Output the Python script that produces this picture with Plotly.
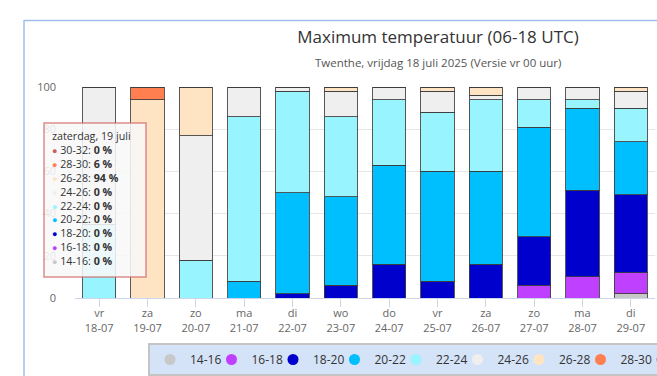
import plotly.graph_objects as go

# ---------------- data ----------------
days = ["vr", "za", "zo", "ma", "di", "wo", "do", "vr", "za", "zo", "ma", "di"]
dates = ["18-07", "19-07", "20-07", "21-07", "22-07", "23-07",
         "24-07", "25-07", "26-07", "27-07", "28-07", "29-07"]

classes = ["14-16", "16-18", "18-20", "20-22", "22-24", "24-26", "26-28", "28-30", "30-32"]
colors = ["#c8c8c8", "#bf40ff", "#0000cd", "#00bfff", "#98f5ff", "#efefef", "#ffe4c4", "#ff7f50", "#cd5c5c"]

p_14_16 = [0, 0, 0, 0, 0, 0, 0, 0, 0, 0, 0, 2]
p_16_18 = [0, 0, 0, 0, 0, 0, 0, 0, 0, 6, 10, 10]
p_18_20 = [0, 0, 0, 0, 2, 6, 16, 8, 16, 23, 41, 37]
p_20_22 = [0, 0, 0, 8, 48, 42, 47, 52, 44, 52, 39, 25]
p_22_24 = [35, 0, 18, 78, 48, 38, 31, 28, 34, 13, 4, 16]
p_24_26 = [65, 0, 59, 14, 2, 12, 6, 10, 2, 6, 6, 8]
p_26_28 = [0, 94, 23, 0, 0, 2, 0, 2, 4, 0, 0, 2]
p_28_30 = [0, 6, 0, 0, 0, 0, 0, 0, 0, 0, 0, 0]
p_30_32 = [0, 0, 0, 0, 0, 0, 0, 0, 0, 0, 0, 0]
series = [p_14_16, p_16_18, p_18_20, p_20_22, p_22_24, p_24_26, p_26_28, p_28_30, p_30_32]

y_ticks = [0, 20, 40, 60, 80, 100]

title = "Maximum temperatuur (06-18 UTC)"
subtitle = "Twenthe, vrijdag 18 juli 2025 (Versie vr 00 uur)"
tooltip_header = "zaterdag, 19 juli"
tooltip_day = 1  # index of the hovered day

# ---------------- layout geometry (pixels) ----------------
W, H = 657, 376
PL, PR, PT, PB = 75, 655, 87, 298  # plot area


def px_x(px):
    return (px - PL) / (PR - PL)


def px_y(py):
    return (PB - py) / (PB - PT)


FONT = "Open Sans, Noto Sans, sans-serif"
cats = [f"{d}<br>{dt}" for d, dt in zip(days, dates)]

fig = go.Figure()
for name, col, vals in zip(classes, colors, series):
    fig.add_trace(go.Bar(
        x=cats, y=vals, name=name, legendgroup=name, showlegend=False,
        marker=dict(color=col, line=dict(color="rgba(60,60,60,0.85)", width=1)),
        hovertemplate=name + ": %{y} %<extra></extra>",
    ))
# legend entries with round symbols (as in the original)
for name, col in zip(classes, colors):
    fig.add_trace(go.Scatter(
        x=[None], y=[None], mode="markers", name=name, legendgroup=name,
        marker=dict(color=col, size=11, symbol="circle"), showlegend=True,
    ))

# ---------------- tooltip (static, as in the screenshot) ----------------
TT_L, TT_T, TT_R, TT_B = 44, 123, 146, 277
tt_lines = [tooltip_header]
for name, col, vals in reversed(list(zip(classes, colors, series))):
    tt_lines.append(f"<span style='color:{col};font-size:9px'>●</span> {name}: <b>{vals[tooltip_day]} %</b>")
tooltip_text = "<br>".join(tt_lines)

annotations = [
    dict(text=subtitle, xref="paper", yref="paper", x=px_x(438), y=px_y(62),
         xanchor="center", yanchor="middle", showarrow=False,
         font=dict(size=11.5, color="#555555", family=FONT)),
    dict(text=tooltip_text, xref="paper", yref="paper", x=px_x(50), y=px_y(198),
         xanchor="left", yanchor="middle", align="left", showarrow=False,
         font=dict(size=10.7, color="#333333", family=FONT)),
]

fig.update_layout(
    width=W, height=H,
    margin=dict(l=PL, r=W - PR, t=PT, b=H - PB, pad=0),
    barmode="stack", bargap=0.315,
    plot_bgcolor="white", paper_bgcolor="white",
    font=dict(family=FONT, color="#666666", size=11),
    title=dict(text=title, x=438 / W, xref="container", xanchor="center",
               y=1 - 37 / H, yref="container", yanchor="middle",
               font=dict(size=17, color="#333333", family=FONT)),
    showlegend=True,
    legend=dict(orientation="h", xref="container", yref="container",
                x=148 / W, xanchor="left", y=1 - 343 / H, yanchor="top",
                bgcolor="#d4e3f7", bordercolor="#c4c4c4", borderwidth=2,
                font=dict(size=12, color="#333333", family=FONT),
                traceorder="normal", entrywidth=16.5, entrywidthmode="pixels",
                itemclick=False),
    xaxis=dict(type="category", showline=True, linecolor="#ccd6eb", linewidth=1,
               ticks="outside", ticklen=8, tickcolor="#ccd6eb", tickwidth=1,
               ticklabelstandoff=-3,
               tickfont=dict(size=11, color="#666666"), showgrid=False,
               range=[-0.5, len(cats) - 0.5], fixedrange=True),
    yaxis=dict(range=[0, 100], tickvals=y_ticks, showgrid=True, gridcolor="#e6e6e6",
               zeroline=False, showline=False, ticks="", ticklabelstandoff=18,
               tickfont=dict(size=11, color="#666666"), fixedrange=True),
    shapes=[
        # outer chart container border (left and top)
        dict(type="line", xref="paper", yref="paper", x0=px_x(24), x1=px_x(24),
             y0=px_y(20), y1=px_y(380), line=dict(color="#9fc0ee", width=1.5), layer="above"),
        dict(type="line", xref="paper", yref="paper", x0=px_x(24), x1=px_x(700),
             y0=px_y(20.5), y1=px_y(20.5), line=dict(color="#9fc0ee", width=1.5), layer="above"),
        # tooltip box
        dict(type="rect", xref="paper", yref="paper",
             x0=px_x(TT_L), x1=px_x(TT_R), y0=px_y(TT_B), y1=px_y(TT_T),
             fillcolor="rgba(248,248,248,0.87)", line=dict(color="rgba(205,92,92,0.7)", width=1.5),
             layer="above"),
    ],
    annotations=annotations,
)

fig.write_html("out.html", config={"displayModeBar": False},
               post_script="document.body.style.margin='0px';")
